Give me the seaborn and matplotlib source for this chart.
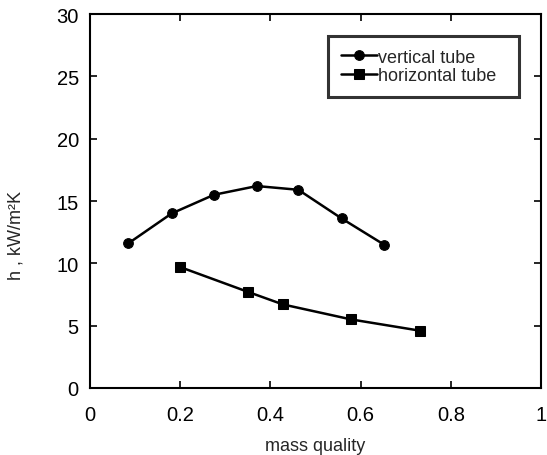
import matplotlib
matplotlib.use("Agg")
import matplotlib.pyplot as plt
import seaborn as sns
import pandas as pd

# Heat transfer coefficient vs. mass quality
vertical_x = [0.085, 0.181, 0.275, 0.370, 0.462, 0.558, 0.652]
vertical_h = [11.6, 14.0, 15.5, 16.2, 15.9, 13.6, 11.5]
horizontal_x = [0.200, 0.351, 0.428, 0.579, 0.731]
horizontal_h = [9.7, 7.7, 6.7, 5.5, 4.6]
series_names = ["vertical tube", "horizontal tube"]
x_ticks = [0, 0.2, 0.4, 0.6, 0.8, 1]
x_tick_labels = ["0", "0.2", "0.4", "0.6", "0.8", "1"]
y_ticks = [0, 5, 10, 15, 20, 25, 30]

df = pd.concat([
    pd.DataFrame({"x": vertical_x, "h": vertical_h, "tube": series_names[0]}),
    pd.DataFrame({"x": horizontal_x, "h": horizontal_h, "tube": series_names[1]}),
])

sns.set_style("ticks")
plt.rcParams["font.family"] = ["Liberation Sans", "DejaVu Sans"]

fig = plt.figure(figsize=(5.47, 4.56), dpi=100)
ax = fig.add_axes([0.1645, 0.147, 0.8245, 0.820])

sns.lineplot(
    data=df, x="x", y="h", hue="tube", style="tube",
    palette={series_names[0]: "black", series_names[1]: "black"},
    markers={series_names[0]: "o", series_names[1]: "s"},
    dashes=False, sort=False, linewidth=1.8, markersize=7,
    markeredgecolor="black", ax=ax,
)

ax.set_xlim(0, 1)
ax.set_ylim(0, 30)
ax.set_xticks(x_ticks)
ax.set_xticklabels(x_tick_labels)
ax.set_yticks(y_ticks)
ax.tick_params(direction="in", length=5, width=1.2, top=True, right=True,
               labelsize=14.5, colors="black")
ax.tick_params(axis="x", pad=12)
ax.tick_params(axis="y", pad=8)
for s in ax.spines.values():
    s.set_linewidth(1.5)
    s.set_color("black")

ax.set_xlabel("mass quality", fontsize=13)
ax.xaxis.set_label_coords(0.5, -0.13)
ax.set_ylabel("h , kW/m²K", fontsize=13)
ax.yaxis.set_label_coords(-0.146, 0.41)

# legend with extra room to the right of the labels
handles, labels = ax.get_legend_handles_labels()
leg = ax.legend(handles, [lab + "  " for lab in labels],
                loc="upper right", bbox_to_anchor=(0.952, 0.941), borderaxespad=0,
                fontsize=13, frameon=True, fancybox=False, edgecolor="black",
                handlelength=2.0, handletextpad=0.1, borderpad=0.7,
                labelspacing=0.08)
leg.get_frame().set_linewidth(2.2)

fig.savefig("out.png", dpi=100)
